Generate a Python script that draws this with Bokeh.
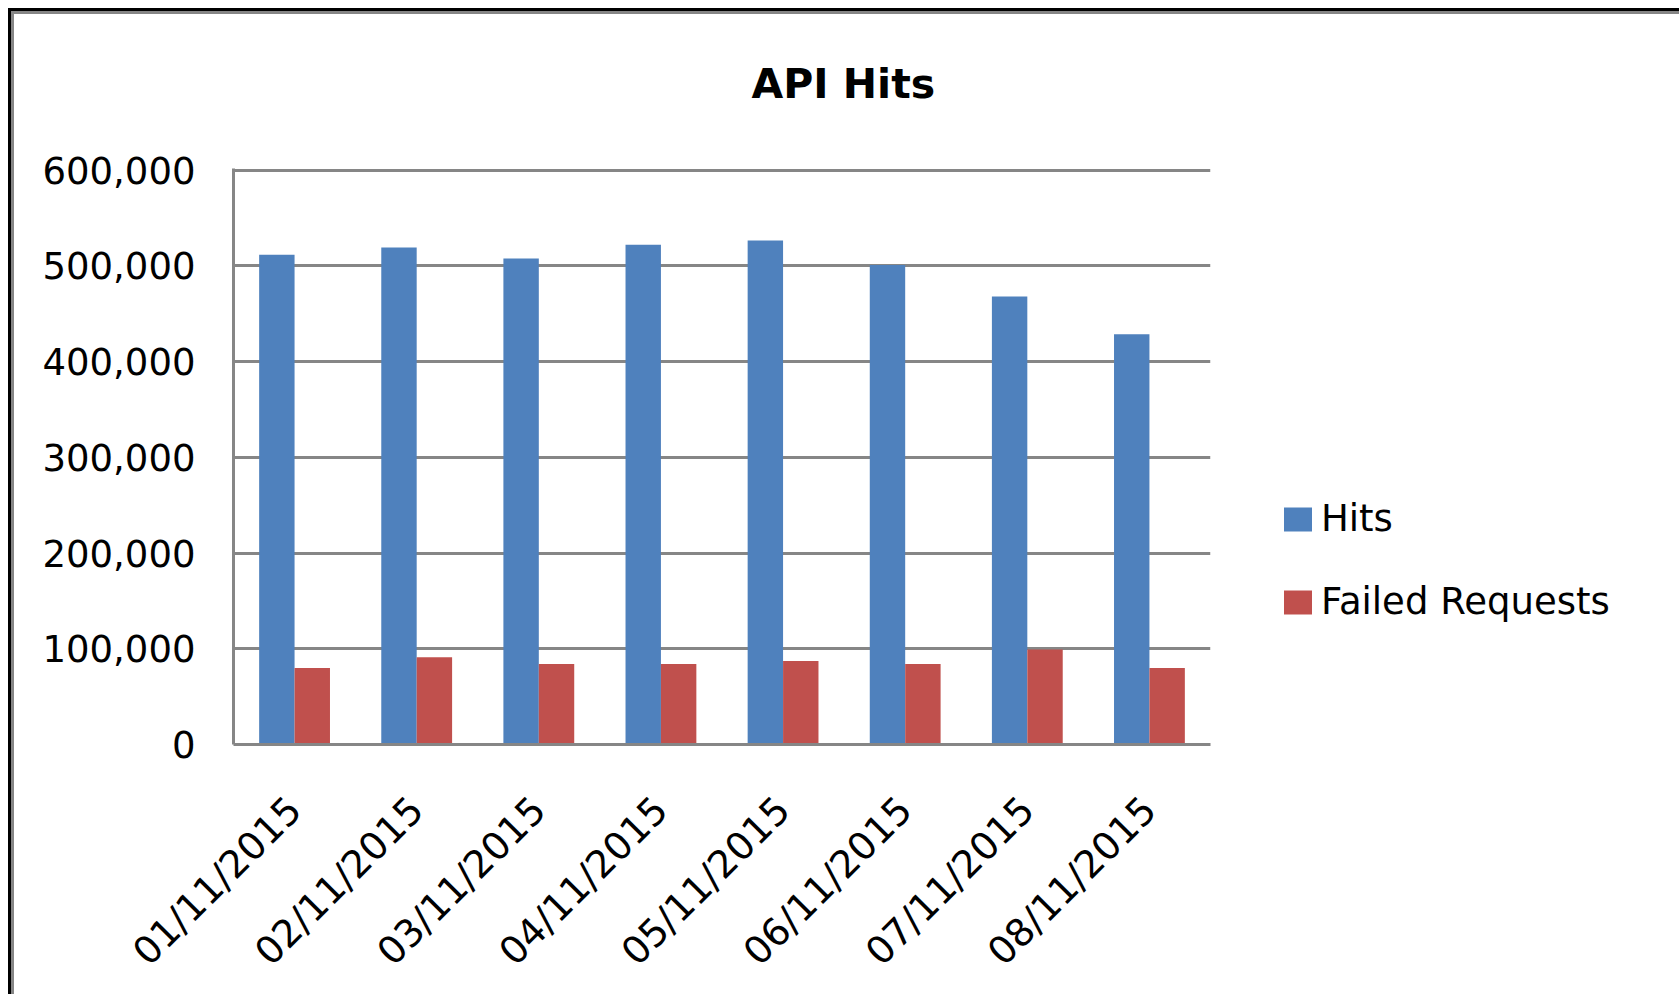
import math
from bokeh.plotting import figure
from bokeh.models import (FactorRange, Range1d, NumeralTickFormatter, Legend, LegendItem,
                          ColumnDataSource, FixedTicker, Title)
from bokeh.transform import dodge
from bokeh.embed import file_html
from bokeh.resources import INLINE

# ---- data ----
dates = ["01/11/2015", "02/11/2015", "03/11/2015", "04/11/2015",
         "05/11/2015", "06/11/2015", "07/11/2015", "08/11/2015"]
hits = [511600, 519200, 507600, 522000, 526300, 500800, 467800, 428400]
failed = [80000, 91200, 84000, 84000, 87200, 84000, 99100, 80000]
y_ticks = [0, 100000, 200000, 300000, 400000, 500000, 600000]
series_names = ["Hits", "Failed Requests"]
title_text = "API Hits"

BLUE = "#4F81BD"
RED = "#C0504D"
GRID = "#868686"
FONT = "DejaVu Sans"

src = ColumnDataSource(dict(dates=dates, hits=hits, failed=failed))

p = figure(x_range=FactorRange(*dates), y_range=Range1d(0, 601600),
           frame_width=977, frame_height=576,
           output_backend="svg", toolbar_location=None,
           min_border_left=222, min_border_right=464, min_border_top=157,
           min_border_bottom=250, title=title_text)

p.styles = {
    "margin-left": "8px",
    "margin-top": "8px",
    "border-top": "3px solid #000",
    "border-left": "3px solid #000",
    "border-right": "3px solid #000",
    "background-color": "white",
    "box-shadow": "inset 3px 3px 0 0 #868686, inset -3px 0 0 0 #868686",
}
p.border_fill_alpha = 0
p.background_fill_color = "white"
p.outline_line_color = None

p.title.align = "left"
p.title.offset = 518
p.title.standoff = 10
p.title.text_font = FONT
p.title.text_font_style = "bold"
p.title.text_font_size = "41px"
p.title.text_color = "black"

# empty spacer between the title and the plot area
p.add_layout(Title(text=" ", text_font_size="40px", standoff=10), "above")

bw = 0.29
r1 = p.vbar(x=dodge("dates", -0.145, range=p.x_range), top="hits", width=bw,
            source=src, fill_color=BLUE, line_color=None)
r2 = p.vbar(x=dodge("dates", 0.145, range=p.x_range), top="failed", width=bw,
            source=src, fill_color=RED, line_color=None)

p.xgrid.grid_line_color = None
p.ygrid.grid_line_color = GRID
p.ygrid.grid_line_width = 3
p.ygrid.ticker = FixedTicker(ticks=y_ticks)

yax = p.yaxis[0]
yax.ticker = FixedTicker(ticks=y_ticks)
yax.formatter = NumeralTickFormatter(format="0,0")
yax.axis_line_color = GRID
yax.axis_line_width = 3
yax.major_tick_line_color = None
yax.minor_tick_line_color = None
yax.major_tick_out = 0
yax.major_label_standoff = 38
yax.major_label_text_font = FONT
yax.major_label_text_font_size = "37px"
yax.major_label_text_color = "black"

xax = p.xaxis[0]
xax.axis_line_color = GRID
xax.axis_line_width = 3
xax.major_tick_line_color = None
xax.minor_tick_line_color = None
xax.major_tick_out = 0
xax.major_label_orientation = math.pi / 4
xax.major_label_standoff = 59
xax.major_label_text_font = FONT
xax.major_label_text_font_size = "38px"
xax.major_label_text_color = "black"

legend = Legend(items=[LegendItem(label=series_names[0], renderers=[r1]),
                       LegendItem(label=series_names[1], renderers=[r2])],
                location=(70, 121), glyph_width=35, glyph_height=30,
                label_standoff=6, spacing=40, padding=0, margin=0,
                border_line_color=None, background_fill_alpha=0,
                label_text_font=FONT, label_text_font_size="37px",
                label_text_color="black")
p.add_layout(legend, "right")

open("out.html", "w").write(file_html(p, INLINE))
